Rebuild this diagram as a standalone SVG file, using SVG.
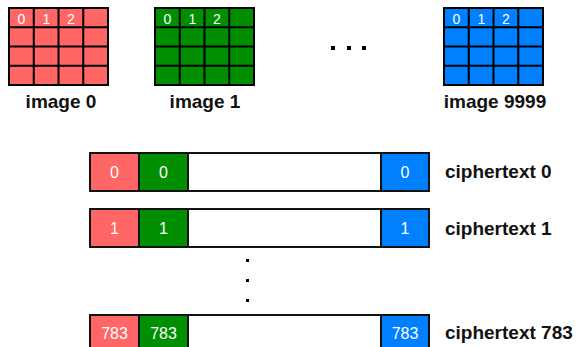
<svg xmlns="http://www.w3.org/2000/svg" width="576" height="347" viewBox="0 0 576 347">
<style>
.red{fill:#FF6666}
.green{fill:#008F00}
.blue{fill:#0080FF}
.grid{fill:none;stroke:#000;stroke-width:2}
.cell{stroke:#111;stroke-width:2}
.num{font-family:"Liberation Sans",Arial,sans-serif;font-size:14px;fill:#fff;text-anchor:middle}
.cnum{font-family:"Liberation Sans",Arial,sans-serif;font-size:16px;fill:#fff;text-anchor:middle}
.lbl{font-family:"Liberation Sans",Arial,sans-serif;font-size:19px;font-weight:bold;fill:#111}
.dot{fill:#000}
</style>
<defs>
<g id="gridlines">
<rect x="0" y="0" width="99" height="77" class="grid"/>
<path d="M24.75 0V77M49.5 0V77M74.25 0V77M0 19.25H99M0 38.5H99M0 57.75H99" class="grid"/>
</g>
</defs>
<g id="image0">
<rect x="9" y="8" width="99" height="77" class="red"/>
<use href="#gridlines" x="9" y="8"/>
<text class="num" x="21.5" y="24">0</text>
<text class="num" x="46.5" y="24">1</text>
<text class="num" x="71" y="24">2</text>
<text class="lbl" x="61" y="108" text-anchor="middle">image 0</text>
</g>
<g id="image1">
<rect x="155" y="8" width="99" height="77" class="green"/>
<use href="#gridlines" x="155" y="8"/>
<text class="num" x="167.5" y="24">0</text>
<text class="num" x="192.5" y="24">1</text>
<text class="num" x="217" y="24">2</text>
<text class="lbl" x="205" y="108" text-anchor="middle">image 1</text>
</g>
<g id="ellipsis-h">
<rect x="331" y="46" width="4" height="4" class="dot"/>
<rect x="347" y="46" width="4" height="4" class="dot"/>
<rect x="362" y="46" width="4" height="4" class="dot"/>
</g>
<g id="image9999">
<rect x="444" y="8" width="99" height="77" class="blue"/>
<use href="#gridlines" x="444" y="8"/>
<text class="num" x="456.5" y="24">0</text>
<text class="num" x="481.5" y="24">1</text>
<text class="num" x="506" y="24">2</text>
<text class="lbl" x="495" y="108" text-anchor="middle">image 9999</text>
</g>
<g id="ciphertext0">
<rect x="90" y="153" width="49" height="38" class="red cell"/>
<rect x="139" y="153" width="49" height="38" class="green cell"/>
<rect x="188" y="153" width="193" height="38" fill="#fff" class="cell"/>
<rect x="381" y="153" width="48" height="38" class="blue cell"/>
<text class="cnum" x="114.5" y="177.5">0</text>
<text class="cnum" x="163.5" y="177.5">0</text>
<text class="cnum" x="405" y="177.5">0</text>
<text class="lbl" x="445" y="178">ciphertext 0</text>
</g>
<g id="ciphertext1">
<rect x="90" y="209" width="49" height="38" class="red cell"/>
<rect x="139" y="209" width="49" height="38" class="green cell"/>
<rect x="188" y="209" width="193" height="38" fill="#fff" class="cell"/>
<rect x="381" y="209" width="48" height="38" class="blue cell"/>
<text class="cnum" x="114.5" y="234">1</text>
<text class="cnum" x="163.5" y="234">1</text>
<text class="cnum" x="405" y="234">1</text>
<text class="lbl" x="445" y="235">ciphertext 1</text>
</g>
<g id="ellipsis-v">
<rect x="246" y="259" width="3" height="3" class="dot"/>
<rect x="246" y="279" width="3" height="3" class="dot"/>
<rect x="246" y="299" width="3" height="3" class="dot"/>
</g>
<g id="ciphertext783">
<rect x="90" y="315" width="49" height="38" class="red cell"/>
<rect x="139" y="315" width="49" height="38" class="green cell"/>
<rect x="188" y="315" width="193" height="38" fill="#fff" class="cell"/>
<rect x="381" y="315" width="48" height="38" class="blue cell"/>
<text class="cnum" x="114.5" y="339">783</text>
<text class="cnum" x="163.5" y="339">783</text>
<text class="cnum" x="405" y="339">783</text>
<text class="lbl" x="445" y="339">ciphertext 783</text>
</g>
</svg>
